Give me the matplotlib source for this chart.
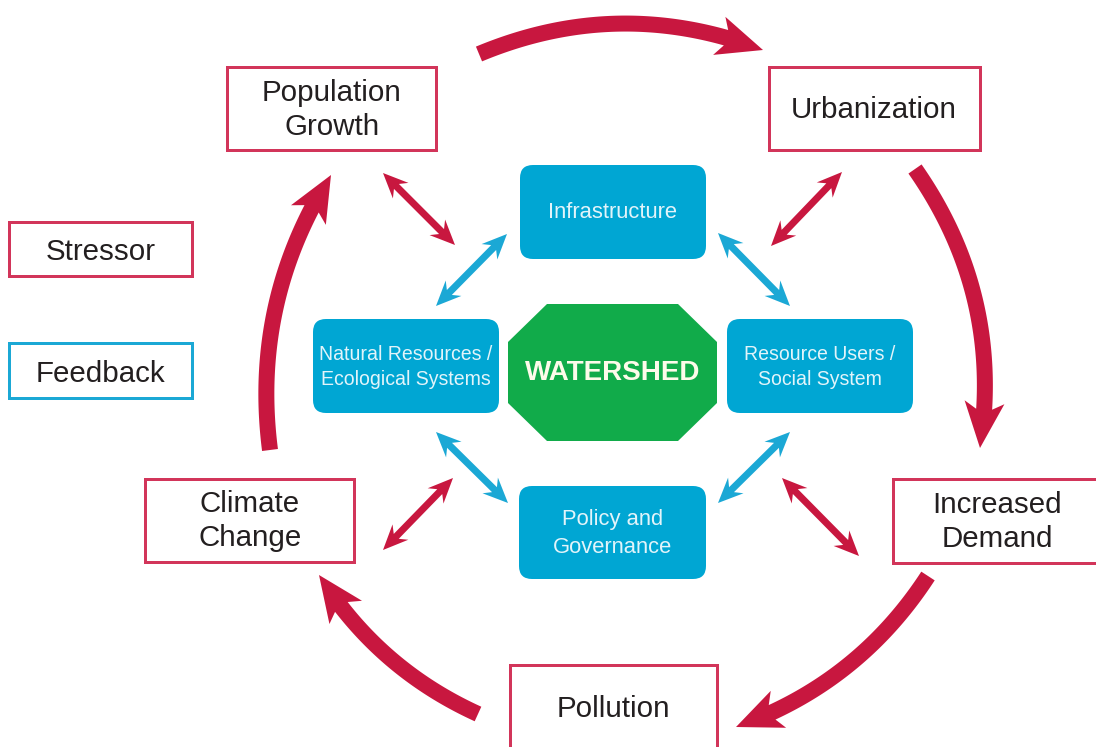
import numpy as np
import matplotlib

matplotlib.use("Agg")
import matplotlib.pyplot as plt
from matplotlib.patches import FancyBboxPatch, Polygon, Rectangle

W, H = 1096, 747
RED = "#c8173f"
RED_EDGE = "#d2355a"
BLUE = "#00a6d3"
BLUE_ARROW = "#1ba8d5"
GREEN = "#11ab4a"
INK = "#231f20"
LIGHT = "#e2f4fa"

plt.rcParams["font.family"] = ["Liberation Sans", "DejaVu Sans"]

# stressors on the outer ring
stressor_labels = ["Population\nGrowth", "Urbanization", "Increased\nDemand", "Pollution", "Climate\nChange"]
stressor_boxes = [(227, 67, 436, 150), (769, 67, 980, 150), (893, 479, 1106, 563),
                  (510, 665, 717, 770), (145, 479, 354, 562)]
stressor_text_xy = [(332, 110), (874, 110), (997, 522), (613, 709), (250, 521)]

# feedback nodes around the watershed
feedback_labels = ["Infrastructure", "Natural Resources /\nEcological Systems",
                   "Resource Users /\nSocial System", "Policy and\nGovernance"]
feedback_boxes = [(520, 165, 706, 259), (313, 319, 499, 413), (727, 319, 913, 413), (519, 486, 706, 579)]
feedback_sizes = [22, 19.5, 19.5, 22]

# legend
legend_labels = ["Stressor", "Feedback"]
legend_boxes = [(9, 222, 192, 276), (9, 343, 192, 398)]
legend_colors = [RED_EDGE, BLUE_ARROW]

center_label = "WATERSHED"
octagon = [(547, 304), (678, 304), (717, 342), (717, 403), (678, 441), (547, 441), (508, 403), (508, 342)]

# clockwise cycle of stressors
cycle_tails = [(479, 54), (915, 169), (928, 576), (478, 714), (270, 450)]
cycle_tips = [(763, 50), (980, 448), (736, 727), (319, 575), (331, 175)]
cycle_bend = [0.2, 0.2, 0.17, 0.15, 0.18]

# two-way links
red_links = [((383, 173), (455, 245)), ((842, 172), (771, 246)),
             ((782, 478), (859, 556)), ((453, 478), (383, 550))]
blue_links = [((436, 306), (507, 234)), ((718, 233), (790, 306)),
              ((436, 432), (508, 503)), ((718, 503), (790, 432))]


def bezier_points(p0, p2, bend, n=300):
    p0 = np.asarray(p0, float)
    p2 = np.asarray(p2, float)
    d = p2 - p0
    ctrl = (p0 + p2) / 2 + bend * np.array([d[1], -d[0]])
    t = np.linspace(0, 1, n)[:, None]
    return (1 - t) ** 2 * p0 + 2 * t * (1 - t) * ctrl + t ** 2 * p2


def curved_arrow(ax, pts, color, shaft, head_len, head_w, notch):
    seg = np.diff(pts, axis=0)
    s = np.concatenate([[0], np.cumsum(np.hypot(seg[:, 0], seg[:, 1]))])
    tang = np.gradient(pts, axis=0)
    tang /= np.hypot(tang[:, 0], tang[:, 1])[:, None]
    normal = np.column_stack([-tang[:, 1], tang[:, 0]])

    def at(sv):
        p = np.array([np.interp(sv, s, pts[:, 0]), np.interp(sv, s, pts[:, 1])])
        nv = np.array([np.interp(sv, s, normal[:, 0]), np.interp(sv, s, normal[:, 1])])
        return p, nv / np.hypot(*nv)

    s_base = s[-1] - head_len
    s_join = s_base + notch
    keep = s < s_join
    jp, jn = at(s_join)
    body = np.vstack([pts[keep], jp])
    nb = np.vstack([normal[keep], jn])
    left = body + nb * shaft / 2
    right = body - nb * shaft / 2
    base, _ = at(s_base)
    tip = pts[-1]
    u = (tip - base) / np.hypot(*(tip - base))
    nh = np.array([-u[1], u[0]])
    poly = np.vstack([left, base + nh * head_w / 2, tip, base - nh * head_w / 2, right[::-1]])
    ax.add_patch(Polygon(poly, closed=True, facecolor=color, edgecolor="none", zorder=2))


def double_arrow(ax, p0, p1, color, shaft=7, head_len=25, head_w=22, notch=6):
    p0 = np.asarray(p0, float)
    p1 = np.asarray(p1, float)
    u = (p1 - p0) / np.hypot(*(p1 - p0))
    n = np.array([-u[1], u[0]])
    hs, hw, j = shaft / 2, head_w / 2, head_len - notch
    poly = [p0, p0 + u * head_len + n * hw, p0 + u * j + n * hs,
            p1 - u * j + n * hs, p1 - u * head_len + n * hw, p1,
            p1 - u * head_len - n * hw, p1 - u * j - n * hs,
            p0 + u * j - n * hs, p0 + u * head_len - n * hw]
    ax.add_patch(Polygon(poly, closed=True, facecolor=color, edgecolor="none", zorder=2))


fig = plt.figure(figsize=(W / 72, H / 72), dpi=72)
ax = fig.add_axes([0, 0, 1, 1])
ax.set_xlim(0, W)
ax.set_ylim(H, 0)
ax.axis("off")

for tail, tip, bend in zip(cycle_tails, cycle_tips, cycle_bend):
    curved_arrow(ax, bezier_points(tail, tip, bend), RED, shaft=16, head_len=46, head_w=40, notch=7)

for a, b in red_links:
    double_arrow(ax, a, b, RED)
for a, b in blue_links:
    double_arrow(ax, a, b, BLUE_ARROW)

for label, (x0, y0, x1, y1), (tx, ty) in zip(stressor_labels, stressor_boxes, stressor_text_xy):
    ax.add_patch(Rectangle((x0, y0), x1 - x0, y1 - y0, facecolor="white", edgecolor=RED_EDGE, linewidth=3, zorder=3))
    ax.text(tx, ty, label, ha="center", va="center", fontsize=29.5, color=INK, linespacing=1.28, zorder=4)

for label, (x0, y0, x1, y1), color in zip(legend_labels, legend_boxes, legend_colors):
    ax.add_patch(Rectangle((x0, y0), x1 - x0, y1 - y0, facecolor="white", edgecolor=color, linewidth=3, zorder=3))
    ax.text((x0 + x1) / 2, (y0 + y1) / 2 + 3, label, ha="center", va="center", fontsize=29.5, color=INK, zorder=4)

for label, (x0, y0, x1, y1), size in zip(feedback_labels, feedback_boxes, feedback_sizes):
    ax.add_patch(FancyBboxPatch((x0, y0), x1 - x0, y1 - y0, boxstyle="round,pad=0,rounding_size=13",
                                facecolor=BLUE, edgecolor="none", zorder=3))
    ax.text((x0 + x1) / 2, (y0 + y1) / 2 + 1, label, ha="center", va="center", fontsize=size,
            color=LIGHT, linespacing=1.42, zorder=4)

ax.add_patch(Polygon(octagon, closed=True, facecolor=GREEN, edgecolor="none", zorder=3))
cx = np.mean([p[0] for p in octagon])
cy = np.mean([p[1] for p in octagon])
ax.text(cx, cy, center_label, ha="center", va="center", fontsize=27.8, fontweight="bold", color="#fdfbea", zorder=4)

fig.savefig("out.png", dpi=72)
